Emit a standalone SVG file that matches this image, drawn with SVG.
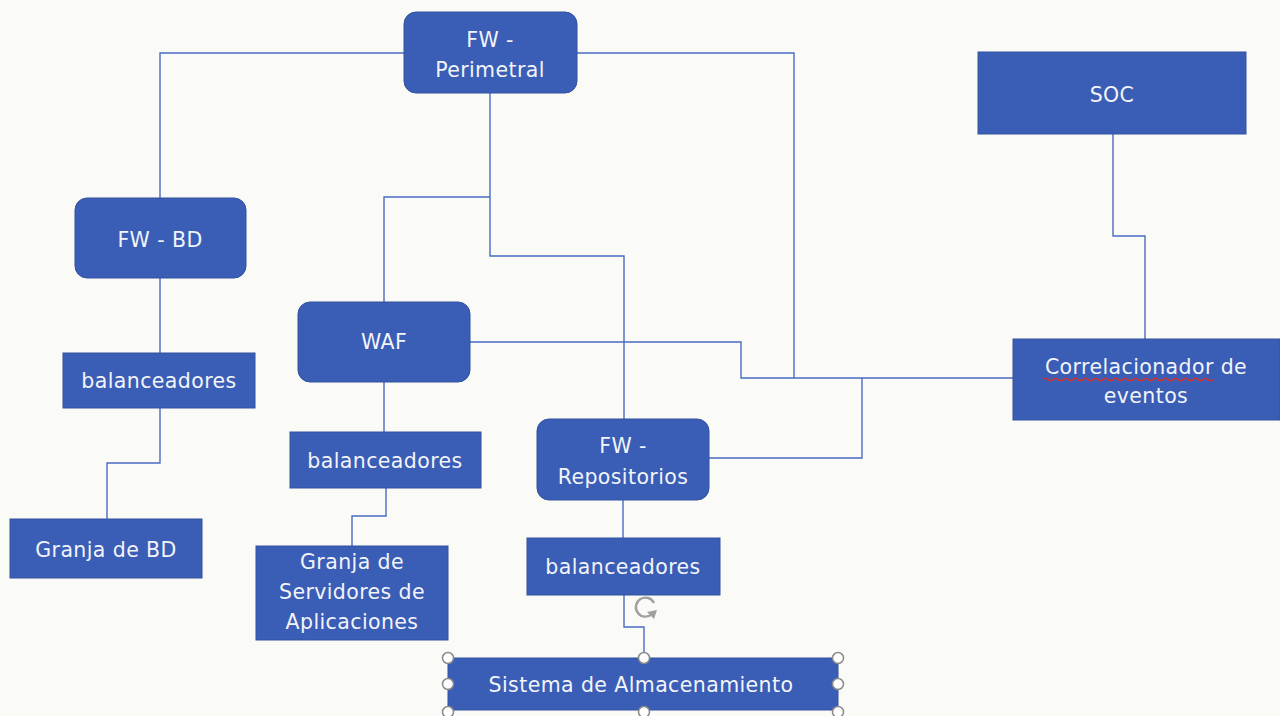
<svg xmlns="http://www.w3.org/2000/svg" width="1280" height="716" viewBox="0 0 1280 716">
<style>
.bg{fill:#fafaf7}
.n{fill:#3a5db5;stroke:#33539f;stroke-width:1}
.t{font-family:"DejaVu Sans","Noto Sans",sans-serif;font-size:20.5px;letter-spacing:0.4px;fill:#f2f4fa;text-anchor:middle}
.c{fill:none;stroke:#4a6bc2;stroke-width:1.4}
.h{fill:#ffffff;stroke:#8a8a8a;stroke-width:1.5}
</style>
<rect class="bg" x="0" y="0" width="1280" height="716"/>
<g id="connectors">
<polyline class="c" points="404,53 160,53 160,198"/>
<polyline class="c" points="577,53 794,53 794,378"/>
<polyline class="c" points="490,93 490,256 624,256 624,419"/>
<polyline class="c" points="490,197 384,197 384,302"/>
<polyline class="c" points="470,342 741,342 741,378 1013,378"/>
<polyline class="c" points="709,458 862,458 862,378"/>
<polyline class="c" points="1113,134 1113,236 1145,236 1145,339"/>
<polyline class="c" points="160,278 160,353"/>
<polyline class="c" points="160,408 160,463 107,463 107,519"/>
<polyline class="c" points="384,382 384,432"/>
<polyline class="c" points="386,488 386,516 352,516 352,546"/>
<polyline class="c" points="623,500 623,538"/>
<polyline class="c" points="624,595 624,627 644,627 644,658"/>
</g>
<g id="fw-perimetral">
<rect class="n" x="404" y="12" width="173" height="81" rx="12"/>
<text class="t" x="490" y="47">FW -</text>
<text class="t" x="490" y="77">Perimetral</text>
</g>
<g id="soc">
<rect class="n" x="978" y="52" width="268" height="82"/>
<text class="t" x="1112" y="102">SOC</text>
</g>
<g id="fw-bd">
<rect class="n" x="75" y="198" width="171" height="80" rx="12"/>
<text class="t" x="160" y="247">FW - BD</text>
</g>
<g id="waf">
<rect class="n" x="298" y="302" width="172" height="80" rx="12"/>
<text class="t" x="384" y="349">WAF</text>
</g>
<g id="balanceadores-bd">
<rect class="n" x="63" y="353" width="192" height="55"/>
<text class="t" x="159" y="388">balanceadores</text>
</g>
<g id="correlacionador">
<rect class="n" x="1013" y="339" width="267" height="81"/>
<text class="t" x="1146" y="374">Correlacionador de</text>
<text class="t" x="1146" y="403">eventos</text>
<path d="M1043,379.5 q2.5,-2.5 5,0 t5,0 t5,0 t5,0 t5,0 t5,0 t5,0 t5,0 t5,0 t5,0 t5,0 t5,0 t5,0 t5,0 t5,0 t5,0 t5,0 t5,0 t5,0 t5,0 t5,0 t5,0 t5,0 t5,0 t5,0 t5,0 t5,0 t5,0 t5,0 t5,0 t5,0 t5,0 t5,0 t5,0" fill="none" stroke="#d9302c" stroke-width="1.5"/>
</g>
<g id="balanceadores-app">
<rect class="n" x="290" y="432" width="191" height="56"/>
<text class="t" x="385" y="468">balanceadores</text>
</g>
<g id="fw-repositorios">
<rect class="n" x="537" y="419" width="172" height="81" rx="12"/>
<text class="t" x="623" y="453">FW -</text>
<text class="t" x="623" y="484">Repositorios</text>
</g>
<g id="granja-bd">
<rect class="n" x="10" y="519" width="192" height="59"/>
<text class="t" x="106" y="557">Granja de BD</text>
</g>
<g id="granja-servidores">
<rect class="n" x="256" y="546" width="192" height="94"/>
<text class="t" x="352" y="569">Granja de</text>
<text class="t" x="352" y="599">Servidores de</text>
<text class="t" x="352" y="629">Aplicaciones</text>
</g>
<g id="balanceadores-repo">
<rect class="n" x="527" y="538" width="193" height="57"/>
<text class="t" x="623" y="574">balanceadores</text>
</g>
<g id="sistema-almacenamiento">
<rect class="n" x="448" y="658" width="390" height="52" stroke="#6d6d6d"/>
<text class="t" x="641" y="692">Sistema de Almacenamiento</text>
<circle class="h" cx="448" cy="658" r="5.5"/>
<circle class="h" cx="644" cy="658" r="5.5"/>
<circle class="h" cx="838" cy="658" r="5.5"/>
<circle class="h" cx="448" cy="684" r="5.5"/>
<circle class="h" cx="838" cy="684" r="5.5"/>
<circle class="h" cx="448" cy="712" r="5.5"/>
<circle class="h" cx="644" cy="712" r="5.5"/>
<circle class="h" cx="838" cy="712" r="5.5"/>
<path d="M654,603 A9.5,9.5 0 1 0 652,614" fill="none" stroke="#a0a0a0" stroke-width="2.4"/>
<path d="M647,612 L657,610 L654,619 Z" fill="#a0a0a0"/>
</g>
</svg>
